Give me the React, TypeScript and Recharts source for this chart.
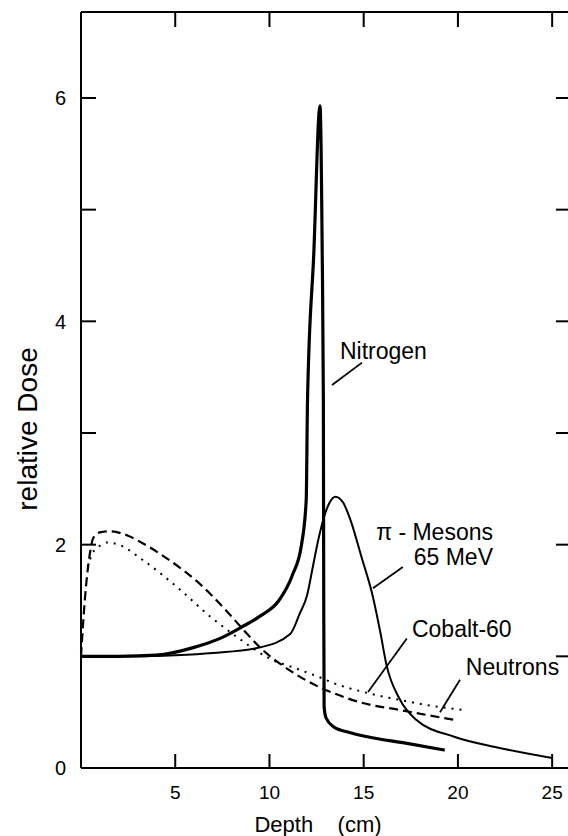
import React from 'react';
import { LineChart, Line, XAxis, YAxis, ReferenceLine, ReferenceDot } from 'recharts';

const FONT = '"Liberation Sans", Arial, Helvetica, sans-serif';

const depthTicks = [5, 10, 15, 20, 25];
const doseTicks = [0, 1, 2, 3, 4, 5, 6];
const depthMax = 26;
const doseMax = 6.77;

const nitrogenDepth = [0, 2, 4, 6, 7.5, 8.5, 9.5, 10.5, 11.2, 11.7, 11.95, 12.02, 12.35, 12.68, 12.8, 12.86, 12.88, 12.9, 13.0, 13.4, 14.2, 15.2, 17.3, 19.3];
const nitrogenDose = [1.0, 1.0, 1.01, 1.08, 1.17, 1.26, 1.36, 1.5, 1.72, 2.0, 2.4, 3.3, 4.6, 5.93, 4.6, 3.29, 1.5, 0.55, 0.45, 0.37, 0.32, 0.28, 0.22, 0.16];

const mesonDepth = [0, 3, 5, 7, 9.5, 11.1, 11.6, 12.0, 12.3, 12.6, 12.9, 13.2, 13.5, 13.9, 14.3, 14.9, 15.45, 15.9, 16.2, 16.9, 17.8, 19.8, 22.2, 25];
const mesonDose = [1.0, 1.0, 1.01, 1.03, 1.08, 1.2, 1.38, 1.55, 1.8, 2.05, 2.25, 2.38, 2.43, 2.38, 2.22, 1.88, 1.56, 1.2, 0.93, 0.62, 0.43, 0.28, 0.18, 0.09];

const cobaltDepth = [0, 0.2, 0.5, 0.65, 1.0, 1.5, 2.5, 3.3, 4.7, 6.3, 7.7, 8.5, 9.5, 11.3, 12.7, 13.4, 15.0, 16.9, 18.5, 19.85];
const cobaltDose = [1.0, 1.5, 1.95, 2.06, 2.11, 2.12, 2.08, 2.01, 1.86, 1.65, 1.41, 1.26, 1.08, 0.85, 0.72, 0.67, 0.58, 0.52, 0.47, 0.43];

const neutronDepth = [0.35, 0.6, 1.0, 1.4, 2.0, 3.3, 5.1, 6.9, 8.3, 9.9, 11.6, 12.7, 13.4, 15.0, 16.9, 18.5, 20.3];
const neutronDose = [1.8, 1.92, 1.99, 2.02, 2.0, 1.86, 1.62, 1.35, 1.17, 0.99, 0.88, 0.81, 0.76, 0.68, 0.61, 0.56, 0.52];

const labelTexts = ['Nitrogen', 'π - Mesons', '65 MeV', 'Cobalt-60', 'Neutrons'];
const labelDepth = [13.74, 21.86, 21.86, 17.56, 20.42];
const labelDose = [3.66, 2.04, 1.82, 1.17, 0.83];
const labelAnchor = ['start', 'end', 'end', 'start', 'start'];

const leaderFromDepth = [14.91, 17.08, 17.29, 20.11];
const leaderFromDose = [3.63, 1.8, 1.16, 0.79];
const leaderToDepth = [13.32, 15.49, 15.23, 19.05];
const leaderToDose = [3.43, 1.61, 0.68, 0.5];

const toPoints = (xs: number[], ys: number[]) => xs.map((x, i) => ({ x, y: ys[i] }));

const nitrogen = toPoints(nitrogenDepth, nitrogenDose);
const meson = toPoints(mesonDepth, mesonDose);
const cobalt = toPoints(cobaltDepth, cobaltDose);
const neutron = toPoints(neutronDepth, neutronDose);

const TICK_W = 2;

const mkTick = (dx: number, dy: number, labels: 'left' | 'bottom' | 'none') => (p: any) => {
  const { x, y, payload } = p;
  const v = payload.value;
  return (
    <g>
      <line x1={x} y1={y} x2={x + dx} y2={y + dy} stroke="#000" strokeWidth={TICK_W} />
      {labels === 'left' && v % 2 === 0 && (
        <text x={x - 15} y={y} dy="0.36em" textAnchor="end" fontSize={20} fontFamily={FONT} fill="#000">
          {v}
        </text>
      )}
      {labels === 'bottom' && (
        <text x={x} y={y + 31} textAnchor="middle" fontSize={19} fontFamily={FONT} fill="#000">
          {v}
        </text>
      )}
    </g>
  );
};
const LeftTick = mkTick(15, 0, 'left');
const RightTick = mkTick(-15, 0, 'none');
const BottomTick = mkTick(0, -14, 'bottom');
const TopTick = mkTick(0, 15, 'none');

export default function App() {
  return (
    <div style={{ position: 'absolute', left: 0, top: 0, width: 600, height: 836 }}>
      <LineChart width={600} height={836} margin={{ top: 11, right: 0, bottom: 0, left: 0 }}>
        <XAxis
          xAxisId="b"
          type="number"
          dataKey="x"
          domain={[0, depthMax]}
          ticks={[...depthTicks]}
          interval={0}
          orientation="bottom"
          height={68}
          tickSize={0}
          tickMargin={0}
          axisLine={{ stroke: '#000', strokeWidth: 2 }}
          tickLine={false}
          tick={<BottomTick />}
          label={{
            content: (p: any) => {
              const vb = p.viewBox;
              return (
                <text x={vb.x + vb.width / 2 - 8} y={vb.y + vb.height - 4} textAnchor="middle" fontSize={22} fontFamily={FONT} fill="#000">
                  {'Depth\u00a0\u00a0\u00a0\u00a0(cm)'}
                </text>
              );
            },
          }}
        />
        <XAxis
          xAxisId="t"
          type="number"
          dataKey="x"
          domain={[0, depthMax]}
          ticks={[...depthTicks]}
          interval={0}
          orientation="top"
          height={1}
          tickSize={0}
          tickMargin={0}
          tick={<TopTick />}
          axisLine={{ stroke: '#000', strokeWidth: 2 }}
          tickLine={false}
        />
        <XAxis xAxisId="h" type="number" dataKey="x" domain={[0, depthMax]} ticks={[...depthTicks]} height={0} hide />
        <YAxis yAxisId="hy" type="number" domain={[0, doseMax]} ticks={[...doseTicks]} width={0} hide />
        <YAxis
          yAxisId="l"
          type="number"
          domain={[0, doseMax]}
          ticks={[...doseTicks]}
          interval={0}
          width={81}
          tickSize={0}
          tickMargin={0}
          axisLine={{ stroke: '#000', strokeWidth: 2 }}
          tickLine={false}
          tick={<LeftTick />}
          label={{
            content: (p: any) => {
              const vb = p.viewBox;
              const cx = vb.x + 27;
              const cy = vb.y + vb.height / 2 + 39;
              return (
                <text x={cx} y={cy} transform={`rotate(-90 ${cx} ${cy})`} textAnchor="middle" dominantBaseline="central" fontSize={28} fontFamily={FONT} fill="#000">
                  relative Dose
                </text>
              );
            },
          }}
        />
        <YAxis
          yAxisId="r"
          orientation="right"
          type="number"
          domain={[0, doseMax]}
          ticks={[...doseTicks]}
          interval={0}
          width={29}
          tickSize={0}
          tickMargin={0}
          tick={<RightTick />}
          axisLine={{ stroke: '#000', strokeWidth: 2 }}
          tickLine={false}
        />

        <Line xAxisId="b" yAxisId="l" data={cobalt} dataKey="y" type="monotone" stroke="#000" strokeWidth={2.2} strokeDasharray="9 5" dot={false} isAnimationActive={false} />
        <Line xAxisId="t" yAxisId="r" data={neutron} dataKey="y" type="monotone" stroke="#000" strokeWidth={2} strokeDasharray="2 6" dot={false} isAnimationActive={false} />
        <Line xAxisId="h" yAxisId="hy" data={meson} dataKey="y" type="monotone" stroke="#000" strokeWidth={2} dot={false} isAnimationActive={false} />
        <Line xAxisId="h" yAxisId="hy" data={nitrogen} dataKey="y" type="monotone" stroke="#000" strokeWidth={3.2} dot={false} isAnimationActive={false} />

        {leaderFromDepth.map((x, i) => (
          <ReferenceLine
            key={`lead-${i}`}
            xAxisId="h"
            yAxisId="hy"
            segment={[{ x, y: leaderFromDose[i] }, { x: leaderToDepth[i], y: leaderToDose[i] }]}
            stroke="#000"
            strokeWidth={1.8}
            ifOverflow="visible"
          />
        ))}

        {labelTexts.map((t, i) => (
          <ReferenceDot
            key={`txt-${i}`}
            xAxisId="h"
            yAxisId="hy"
            x={labelDepth[i]}
            y={labelDose[i]}
            r={1}
            ifOverflow="visible"
            shape={(p: any) => (
              <text x={p.cx} y={p.cy} textAnchor={labelAnchor[i] as any} fontSize={23} fontFamily={FONT} fill="#000">
                {t}
              </text>
            )}
          />
        ))}
      </LineChart>
    </div>
  );
}
